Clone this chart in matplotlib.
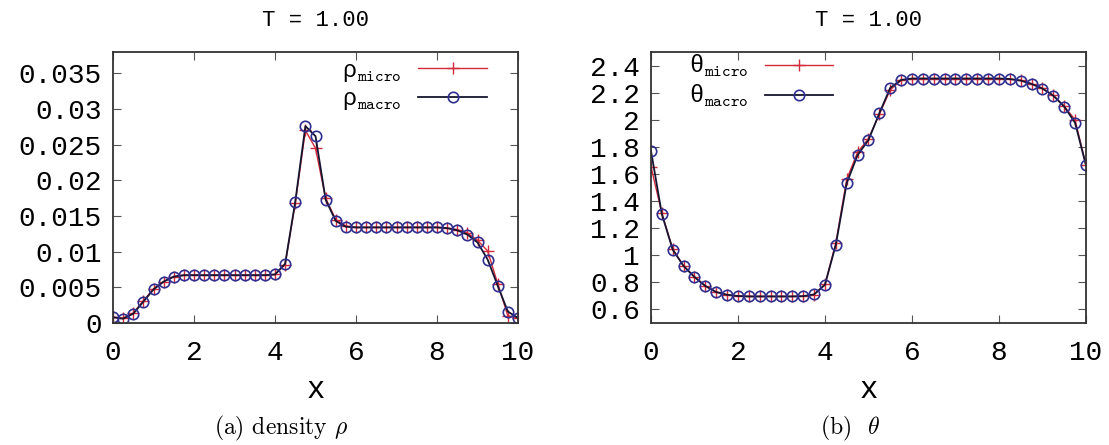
import numpy as np
import matplotlib
matplotlib.use("Agg")
import matplotlib.pyplot as plt

plt.rcParams["mathtext.fontset"] = "cm"

# grid of 41 sample points on [0, 10]
x = np.arange(41) * 0.25

rho_macro = [0.0008, 0.0006, 0.0013, 0.0030, 0.0047, 0.0058, 0.0065, 0.0067,
             0.0067, 0.0067, 0.0067, 0.0067, 0.0067, 0.0067, 0.0067, 0.0067,
             0.0068, 0.0083, 0.0170, 0.0276, 0.0262, 0.0173, 0.0143, 0.0135,
             0.0134, 0.0134, 0.0134, 0.0134, 0.0134, 0.0134, 0.0134, 0.0134,
             0.0134, 0.0133, 0.0130, 0.0124, 0.0113, 0.0089, 0.0052, 0.0016,
             0.0007]
rho_micro = [0.0008, 0.0007, 0.0014, 0.0031, 0.0048, 0.0058, 0.0065, 0.0067,
             0.0067, 0.0067, 0.0067, 0.0067, 0.0067, 0.0067, 0.0067, 0.0067,
             0.0068, 0.0082, 0.0168, 0.0270, 0.0245, 0.0175, 0.0145, 0.0136,
             0.0134, 0.0134, 0.0134, 0.0134, 0.0134, 0.0134, 0.0134, 0.0134,
             0.0134, 0.0133, 0.0131, 0.0126, 0.0116, 0.0101, 0.0055, 0.0010,
             0.0007]

theta_macro = [1.771, 1.303, 1.041, 0.920, 0.839, 0.773, 0.728, 0.708,
               0.699, 0.696, 0.696, 0.696, 0.696, 0.696, 0.698, 0.711,
               0.782, 1.078, 1.532, 1.739, 1.850, 2.047, 2.235, 2.294,
               2.304, 2.304, 2.304, 2.304, 2.304, 2.304, 2.304, 2.304,
               2.304, 2.300, 2.289, 2.264, 2.230, 2.178, 2.097, 1.978,
               1.665]
theta_micro = [1.653, 1.310, 1.045, 0.922, 0.840, 0.774, 0.729, 0.708,
               0.699, 0.696, 0.696, 0.696, 0.696, 0.696, 0.698, 0.710,
               0.785, 1.090, 1.560, 1.760, 1.860, 2.040, 2.220, 2.290,
               2.304, 2.304, 2.304, 2.304, 2.304, 2.304, 2.304, 2.304,
               2.304, 2.300, 2.290, 2.266, 2.232, 2.180, 2.100, 2.000,
               1.665]

rho_ticks = [0, 0.005, 0.01, 0.015, 0.02, 0.025, 0.03, 0.035]
rho_labels = ["0", "0.005", "0.01", "0.015", "0.02", "0.025", "0.03", "0.035"]
theta_ticks = [0.6, 0.8, 1.0, 1.2, 1.4, 1.6, 1.8, 2.0, 2.2, 2.4]
theta_labels = ["0.6", "0.8", "1", "1.2", "1.4", "1.6", "1.8", "2", "2.2", "2.4"]

MONO = "Liberation Mono"
RED = "#d42a3c"
LINE = "#151530"
CIRC = "#2f2f8f"

fig = plt.figure(figsize=(11.09, 4.45), dpi=100)
ax1 = fig.add_axes([0.1019, 0.2742, 0.3652, 0.609])
ax2 = fig.add_axes([0.5870, 0.2742, 0.3922, 0.609])


def style_axes(ax, yticks, ylim, ylabels):
    ax.set_xlim(0, 10)
    ax.set_ylim(*ylim)
    ax.set_xticks([0, 2, 4, 6, 8, 10])
    ax.set_yticks(yticks)
    ax.set_yticklabels(ylabels)
    ax.tick_params(direction="in", top=True, right=True, length=6,
                   width=0.8, color="#555555")
    ax.tick_params(axis="y", pad=8)
    ax.tick_params(axis="x", pad=12)
    for lab in ax.get_xticklabels() + ax.get_yticklabels():
        lab.set_fontfamily(MONO)
        lab.set_fontsize(20)
    for sp in ax.spines.values():
        sp.set_linewidth(1.3)
        sp.set_color("#333333")
    ax.set_title("T = 1.00", fontfamily=MONO, fontsize=16, pad=19)
    ax.set_xlabel("x", fontfamily=MONO, fontsize=22, va="center")
    ax.xaxis.set_label_coords(0.5, -0.247)


def draw(ax, ym, yM, name, loc, anchor):
    ax.plot(x, ym, color=RED, lw=1.0, marker="+", ms=9, mew=1.0,
            label=name + r"$_{\mathtt{micro}}$")
    ax.plot(x, yM, color=LINE, lw=1.3, marker="o", ms=7.5, mfc="none",
            mec=CIRC, mew=1.2, label=name + r"$_{\mathtt{macro}}$")
    ax.legend(loc=loc, bbox_to_anchor=anchor, markerfirst=False,
              frameon=False, handlelength=2.9, borderaxespad=0,
              borderpad=0, labelspacing=0.15, handletextpad=0.7,
              prop={"family": MONO, "size": 17})


draw(ax1, rho_micro, rho_macro, "ρ", "upper right", (0.923, 0.975))
style_axes(ax1, rho_ticks, (0, 0.038), rho_labels)

draw(ax2, theta_micro, theta_macro, "θ", "upper left", (0.087, 0.995))
style_axes(ax2, theta_ticks, (0.5, 2.5), theta_labels)

# sub-figure captions
fig.text(0.2534, 0.038, r"(a) density $\rho$", fontfamily="cmr10",
         fontsize=17, ha="center", va="center")
fig.text(0.7665, 0.038, r"(b)  $\theta$", fontfamily="cmr10",
         fontsize=17, ha="center", va="center")

fig.savefig("out.png", dpi=100)
